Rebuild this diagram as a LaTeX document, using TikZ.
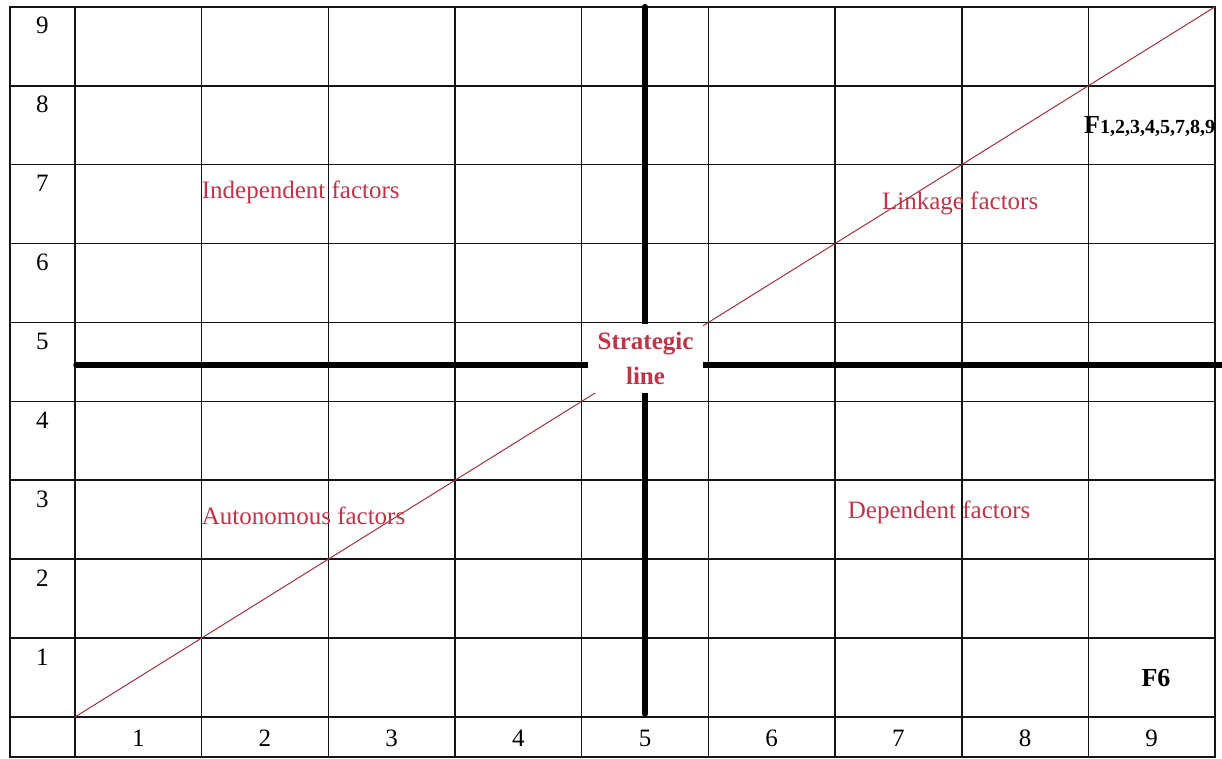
\documentclass[tikz,border=0pt]{standalone}
\usepackage{fontspec}
\setmainfont{Liberation Serif}
\definecolor{factorred}{RGB}{192,52,72}
\definecolor{diagred}{RGB}{160,50,60}
\definecolor{lineblack}{RGB}{20,20,20}
\begin{document}
\begin{tikzpicture}[x=126.67pt, y=78.9pt,
  gridline/.style={line width=1.6pt, draw=lineblack},
  diagonal/.style={line width=1pt, draw=diagred},
  strategic/.style={line width=6pt, line cap=round},
  quadrant/.style={anchor=west, inner sep=0pt, text=factorred, font=\fontsize{25}{30}\selectfont},
  axislabel/.style={inner sep=0pt, font=\fontsize{25}{30}\selectfont},
  factor/.style={inner sep=0pt, font=\bfseries\fontsize{26}{30}\selectfont}]
  \useasboundingbox (-0.592,-0.52) rectangle (9.055,9.087);
  % Coordinates
  \coordinate (O) at (0,0);
  \coordinate (T) at (9,9);
  \coordinate (VT) at (4.5,9);
  \coordinate (VB) at (4.5,0.04);
  \coordinate (HL) at (0.01,4.46);
  \coordinate (HR) at (9.1,4.46);

  % Grid
  \draw[gridline] (-0.513,-0.51) rectangle (9,9);
  \foreach \i in {0,...,8}
    \draw[gridline] (\i,-0.51) -- (\i,9);
  \foreach \j in {0,...,8}
    \draw[gridline] (-0.513,\j) -- (9,\j);

  % Drawing
  \draw[diagonal] (O) -- (T);
  \draw[strategic] (VT) -- (VB);
  \draw[strategic] (HL) -- (HR);
  \node[fill=white, inner sep=0pt, minimum width=115pt, minimum height=69pt,
    align=center, text=factorred, font=\bfseries\fontsize{25}{35}\selectfont]
    (strat) at (4.504,4.544) {Strategic\\line};

  \foreach \k in {1,...,9} {
    \node[axislabel] (row\k) at (-0.257,\k-0.24) {\k};
    \node[axislabel] (col\k) at (\k-0.5,-0.27) {\k};
  }

  \node[quadrant] (indep) at (1.0,6.65) {Independent factors};
  \node[quadrant] (auton) at (1.0,2.55) {Autonomous factors};
  \node[quadrant] (depen) at (6.10,2.59) {Dependent factors};
  \node[quadrant] (link) at (6.37,6.51) {Linkage factors};

  \node[factor, anchor=base west] (Fmany) at (7.965,7.40)
    {F{\fontsize{20}{22}\selectfont 1,2,3,4,5,7,8,9}};
  \node[factor] (Fsix) at (8.534,0.494) {F6};
\end{tikzpicture}
\end{document}
